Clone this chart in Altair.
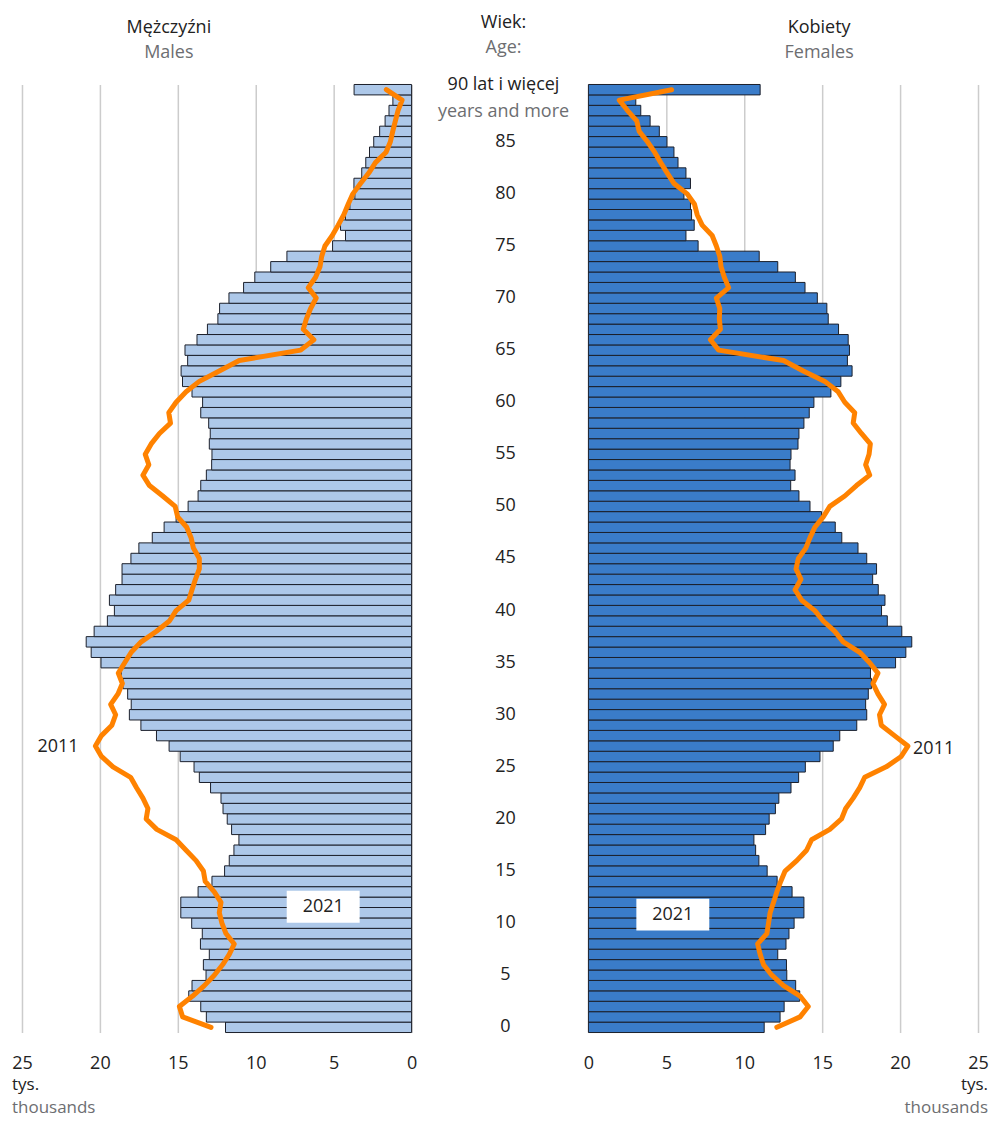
import altair as alt
import pandas as pd

# ---------------- data ----------------
ages = list(range(0, 91))  # 90 = "90 and more"

males_2021 = [11.94, 13.17, 13.53, 14.30, 14.09, 13.19, 13.36, 12.98, 13.55, 13.43,
              14.11, 14.81, 14.81, 13.70, 12.81, 12.00, 11.70, 11.40, 11.08, 11.55,
              11.83, 12.10, 12.23, 12.90, 13.62, 13.96, 14.85, 15.56, 16.37, 17.37,
              18.11, 17.99, 18.22, 18.52, 18.63, 19.93, 20.56, 20.88, 20.37, 19.52,
              19.07, 19.39, 18.99, 18.58, 18.58, 18.01, 17.50, 16.64, 15.88, 15.11,
              14.34, 13.70, 13.53, 13.17, 12.83, 12.81, 12.98, 12.92, 13.02, 13.53,
              13.41, 14.09, 14.70, 14.79, 14.37, 14.54, 13.77, 13.10, 12.43, 12.32,
              11.72, 10.78, 10.06, 9.04, 8.00, 5.07, 4.24, 4.56, 4.24, 3.96,
              3.64, 3.70, 3.20, 2.94, 2.70, 2.43, 2.05, 1.70, 1.45, 1.20,
              3.69]

females_2021 = [11.28, 12.30, 12.56, 13.56, 13.30, 12.73, 12.71, 12.15, 12.68, 12.87,
                13.20, 13.83, 13.83, 13.07, 12.11, 11.47, 10.94, 10.73, 10.62, 11.37,
                11.60, 12.00, 12.22, 13.00, 13.49, 13.92, 14.86, 15.71, 16.13, 17.22,
                17.86, 17.79, 17.96, 18.16, 18.10, 19.71, 20.37, 20.75, 20.11, 19.18,
                18.81, 19.03, 18.60, 18.24, 18.49, 17.86, 17.30, 16.26, 15.84, 14.96,
                14.22, 13.51, 12.98, 13.26, 12.94, 13.00, 13.45, 13.51, 13.83, 14.17,
                14.47, 15.56, 16.20, 16.92, 16.62, 16.75, 16.67, 16.05, 15.39, 15.30,
                14.69, 13.90, 13.28, 12.15, 10.96, 7.04, 6.26, 6.79, 6.62, 6.55,
                6.13, 6.55, 6.26, 5.75, 5.49, 5.04, 4.55, 3.96, 3.36, 3.04,
                11.02]

males_2011 = [12.87, 14.69, 14.90, 14.05, 13.30, 12.66, 12.13, 11.70, 11.38, 11.91,
              12.17, 12.34, 12.23, 12.66, 13.24, 13.36, 13.83, 14.47, 15.11, 16.35,
              17.03, 16.92, 17.24, 17.65, 18.03, 19.16, 19.90, 20.29, 19.90, 19.23,
              18.99, 19.31, 18.84, 18.56, 18.82, 18.41, 17.99, 17.35, 16.39, 15.54,
              15.11, 14.30, 14.09, 13.87, 13.62, 13.62, 14.00, 14.15, 14.43, 15.01,
              15.17, 15.97, 16.82, 17.24, 16.86, 17.09, 16.71, 16.18, 15.47, 15.58,
              15.11, 14.47, 13.62, 12.34, 11.06, 7.12, 6.27, 6.95, 6.75, 6.48,
              6.12, 6.63, 6.16, 5.88, 5.77, 5.56, 5.09, 4.71, 4.35, 4.07,
              3.77, 3.28, 2.75, 2.32, 1.64, 1.36, 1.21, 1.04, 0.87, 0.61,
              1.62]

females_2011 = [12.09, 13.58, 14.11, 13.58, 12.52, 11.77, 11.24, 11.02, 10.86, 11.45,
                11.56, 11.66, 11.88, 12.09, 12.34, 12.62, 13.37, 14.00, 14.32, 15.49,
                16.24, 16.51, 16.99, 17.41, 17.73, 19.11, 20.07, 20.50, 19.64, 18.79,
                18.68, 19.00, 18.58, 18.26, 18.58, 18.05, 17.41, 16.35, 15.81, 15.07,
                14.53, 13.68, 13.26, 13.64, 13.32, 13.47, 13.95, 14.22, 14.53, 15.07,
                15.49, 16.45, 17.20, 18.05, 17.79, 18.01, 18.09, 17.52, 16.99, 17.09,
                16.45, 16.03, 15.17, 13.79, 12.52, 8.36, 7.83, 8.47, 8.40, 8.43,
                8.21, 9.00, 8.72, 8.51, 8.43, 8.21, 7.94, 7.30, 6.98, 6.81,
                6.34, 5.49, 5.06, 4.64, 4.25, 3.79, 3.26, 3.10, 2.51, 1.98,
                5.34]

x_ticks = [0, 5, 10, 15, 20, 25]
age_tick_positions = list(range(0, 90, 5))
age_tick_labels = [str(a) for a in age_tick_positions]

# ---------------- styling ----------------
FONT = "Open Sans"
DARK = "#222222"
GRAY = "#6d6e71"
LIGHT_BLUE = "#adc8e9"
DARK_BLUE = "#3a7cc9"
EDGE = "#1b1f2a"
ORANGE = "#ff8200"
GRID = "#cccccc"

H = 949
W_L, W_C, W_R = 390, 177, 390

yscale = alt.Scale(domain=[-0.5, 90.5], nice=False, zero=False)


def label(text, x, y, color=DARK, size=18, align="center"):
    return alt.Chart(pd.DataFrame({"a": [0]})).mark_text(
        text=text, font=FONT, fontSize=size, color=color, align=align, baseline="middle"
    ).encode(x=alt.value(x), y=alt.value(y))


def box(x1, x2, y1, y2):
    return alt.Chart(pd.DataFrame({"a": [0]})).mark_rect(fill="white").encode(
        x=alt.value(x1), x2=alt.value(x2), y=alt.value(y1), y2=alt.value(y2)
    )


def panel(df, xscale, fill, width, extra):
    base = alt.Chart(df).transform_calculate(y0="datum.age - 0.5", y1="datum.age + 0.5")
    axis = alt.Axis(values=x_ticks, grid=True, gridColor=GRID, gridWidth=1.5, domain=False,
                    ticks=False, labelFontSize=18, labelPadding=22, labelColor=DARK,
                    labelFont=FONT, labelFlush=False, title=None)
    bars = base.mark_bar(fill=fill, stroke=EDGE, strokeWidth=1).encode(
        x=alt.X("v2021:Q", scale=xscale, axis=axis),
        x2=alt.datum(0),
        y=alt.Y("y0:Q", scale=yscale, axis=None),
        y2="y1:Q",
    )
    line = base.mark_line(color=ORANGE, strokeWidth=5, strokeJoin="round", strokeCap="round").encode(
        x=alt.X("v2011:Q", scale=xscale),
        y=alt.Y("age:Q", scale=yscale),
        order="age:Q",
    )
    return alt.layer(bars, *extra[:2], line, *extra[2:]).properties(width=width, height=H)


df_m = pd.DataFrame({"age": ages, "v2021": males_2021, "v2011": males_2011})
df_f = pd.DataFrame({"age": ages, "v2021": females_2021, "v2011": females_2011})

left = panel(
    df_m, alt.Scale(domain=[0, 25], reverse=True, nice=False), LIGHT_BLUE, W_L,
    [box(265, 338, 807, 839), label("2021", 301.5, 823),
     label("2011", 36, 663), label("Mężczyźni", 147, -57), label("Males", 147, -32, GRAY),
     label("tys.", -10, 1002, size=17, align="left"),
     label("thousands", -10, 1025, GRAY, size=17, align="left")],
)

right = panel(
    df_f, alt.Scale(domain=[0, 25], nice=False), DARK_BLUE, W_R,
    [box(48, 121, 815, 847), label("2021", 84.5, 831),
     label("2011", 325, 665, align="left"), label("Kobiety", 231, -57), label("Females", 231, -32, GRAY),
     label("tys.", 400, 1002, size=17, align="right"),
     label("thousands", 400, 1025, GRAY, size=17, align="right")],
)

center_df = pd.DataFrame({"age": age_tick_positions, "label": age_tick_labels})
center_ticks = alt.Chart(center_df).mark_text(font=FONT, fontSize=18, color=DARK, baseline="middle").encode(
    y=alt.Y("age:Q", scale=yscale, axis=None),
    x=alt.value(94),
    text="label:N",
)
center = alt.layer(
    center_ticks,
    label("Wiek:", 92, -62),
    label("Age:", 92, -37, GRAY),
    label("90 lat i więcej", 92, 1),
    label("years and more", 92, 28, GRAY),
).properties(width=W_C, height=H)

chart = alt.hconcat(left, center, right, spacing=0, bounds="flush").configure_view(
    stroke=None
).properties(padding={"left": 3, "top": 5, "right": 0, "bottom": 0})

chart.save("out.html", embed_options={"renderer": "svg", "actions": False})
